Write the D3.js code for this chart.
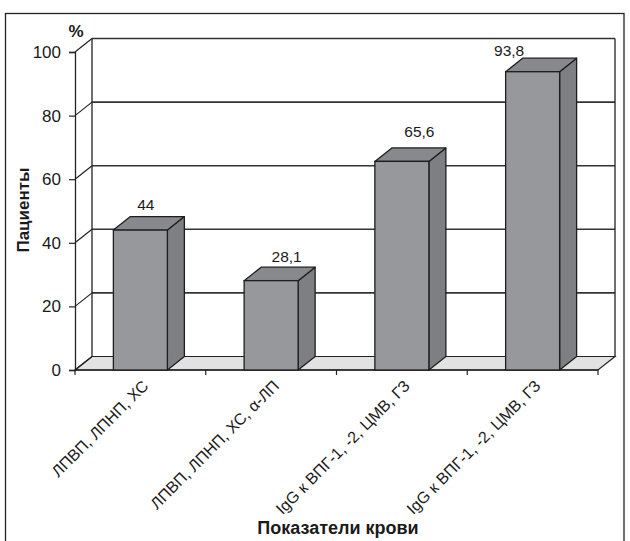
<!DOCTYPE html>
<html>
<head>
<meta charset="utf-8">
<script src="https://cdn.jsdelivr.net/npm/d3@7"></script>
<style>
  html, body { margin: 0; padding: 0; background: #fff; }
  svg { display: block; }
  text { font-family: "Liberation Sans", Arial, sans-serif; fill: #1a1a1a; }
</style>
</head>
<body>
<svg id="chart" width="630" height="541"></svg>
<script>
// Blood indicators and share of patients (%)
const categories = [
  "ЛПВП, ЛПНП, ХС",
  "ЛПВП, ЛПНП, ХС, α-ЛП",
  "IgG к ВПГ-1, -2, ЦМВ, ГЗ",
  "IgG к ВПГ-1, -2, ЦМВ, ГЗ"
];
const values = [44, 28.1, 65.6, 93.8];
const valueLabels = ["44", "28,1", "65,6", "93,8"];
const yTicks = [0, 20, 40, 60, 80, 100];

// hand-placed value labels: offset from the back-top centre of each column
const labelNudge = [[-3, -7], [7, -5], [9, -11], [-32, -2]];

const svg = d3.select("#chart");

// 3D depth of the floor / walls
const DX = 17, DY = -13.5;
const x0 = 75, x1 = 598, yBase = 370, yTop = 52;

const y = d3.scaleLinear().domain([0, 100]).range([yBase, yTop]);
const x = d3.scaleBand().domain(d3.range(categories.length)).range([x0, x1])
  .paddingInner(0.587).paddingOuter(0.2935);
const step = x.step();

// outer frame
svg.append("rect").attr("x", 5.5).attr("y", 13.5).attr("width", 618.5).attr("height", 540)
  .attr("fill", "none").attr("stroke", "#222").attr("stroke-width", 1.3);

const lineCol = "#333";

// floor
svg.append("polygon")
  .attr("points", [[x0, yBase], [x0 + DX, yBase + DY], [x1 + DX, yBase + DY], [x1, yBase]].join(" "))
  .attr("fill", "#e2e2e2").attr("stroke", "#222").attr("stroke-width", 1.2);

// back wall gridlines
svg.append("g").selectAll("line").data(yTicks.filter(t => t > 0)).join("line")
  .attr("x1", x0 + DX).attr("x2", x1 + DX)
  .attr("y1", d => y(d) + DY).attr("y2", d => y(d) + DY)
  .attr("stroke", lineCol).attr("stroke-width", 1.6);

// back wall edges
svg.append("line").attr("x1", x0 + DX).attr("x2", x0 + DX)
  .attr("y1", y(100) + DY).attr("y2", yBase + DY).attr("stroke", "#222").attr("stroke-width", 1.3);
svg.append("line").attr("x1", x1 + DX).attr("x2", x1 + DX)
  .attr("y1", y(100) + DY).attr("y2", yBase + DY).attr("stroke", "#222").attr("stroke-width", 1.3);

// side wall diagonals
svg.append("g").selectAll("line").data(yTicks).join("line")
  .attr("x1", x0).attr("x2", x0 + DX)
  .attr("y1", d => y(d)).attr("y2", d => y(d) + DY)
  .attr("stroke", "#222").attr("stroke-width", 1.2);

// value axis
const yAxis = d3.axisLeft(y).tickValues(yTicks).tickSize(6).tickPadding(8).tickFormat(d3.format("d"));
const gy = svg.append("g").attr("transform", `translate(${x0},0)`).call(yAxis);
gy.select(".domain").attr("stroke", "#222").attr("stroke-width", 1.3);
gy.selectAll(".tick line").attr("stroke", "#222").attr("stroke-width", 1.2);
gy.selectAll(".tick text").attr("font-size", 17).attr("fill", "#1a1a1a")
  .attr("font-family", "'Liberation Sans', Arial, sans-serif");

// category axis with ticks at category boundaries
svg.append("line").attr("x1", x0).attr("x2", x1).attr("y1", yBase).attr("y2", yBase)
  .attr("stroke", "#222").attr("stroke-width", 1.3);
svg.append("g").selectAll("line").data(d3.range(categories.length + 1)).join("line")
  .attr("x1", i => x0 + i * step).attr("x2", i => x0 + i * step)
  .attr("y1", yBase).attr("y2", yBase + 5)
  .attr("stroke", "#222").attr("stroke-width", 1.2);

// columns
const bars = svg.append("g").selectAll("g").data(values).join("g");
const bw = x.bandwidth();
bars.append("polygon") // side
  .attr("points", (d, i) => {
    const l = x(i) + bw, t = y(d);
    return [[l, t], [l + DX, t + DY], [l + DX, yBase + DY], [l, yBase]].join(" ");
  })
  .attr("fill", "#7e7f83").attr("stroke", "#1e1e1e").attr("stroke-width", 1.3).attr("stroke-linejoin", "round");
bars.append("polygon") // top
  .attr("points", (d, i) => {
    const l = x(i), t = y(d);
    return [[l, t], [l + DX, t + DY], [l + bw + DX, t + DY], [l + bw, t]].join(" ");
  })
  .attr("fill", "#88898c").attr("stroke", "#1e1e1e").attr("stroke-width", 1.3).attr("stroke-linejoin", "round");
bars.append("rect") // front
  .attr("x", (d, i) => x(i)).attr("y", d => y(d))
  .attr("width", bw).attr("height", d => yBase - y(d))
  .attr("fill", "#97989b").attr("stroke", "#1e1e1e").attr("stroke-width", 1.3);

// value labels
bars.append("text")
  .attr("x", (d, i) => x(i) + bw / 2 + DX / 2 + labelNudge[i][0])
  .attr("y", (d, i) => y(d) + DY + labelNudge[i][1])
  .attr("text-anchor", "middle").attr("font-size", 15.5)
  .text((d, i) => valueLabels[i]);

// category labels
svg.append("g").selectAll("text").data(categories).join("text")
  .attr("transform", (d, i) => `translate(${x(i) + bw / 2 + 9},${yBase + 17}) rotate(-45)`)
  .attr("text-anchor", "end").attr("font-size", 16)
  .text(d => d);

// axis titles
svg.append("text").attr("x", 76).attr("y", 37).attr("text-anchor", "middle")
  .attr("font-size", 17).attr("font-weight", "bold").text("%");
svg.append("text").attr("transform", "translate(29,210) rotate(-90)")
  .attr("text-anchor", "middle").attr("font-size", 17).attr("font-weight", "bold").text("Пациенты");
svg.append("text").attr("x", 338).attr("y", 534).attr("text-anchor", "middle")
  .attr("font-size", 18).attr("font-weight", "bold").text("Показатели крови");
</script>
</body>
</html>
